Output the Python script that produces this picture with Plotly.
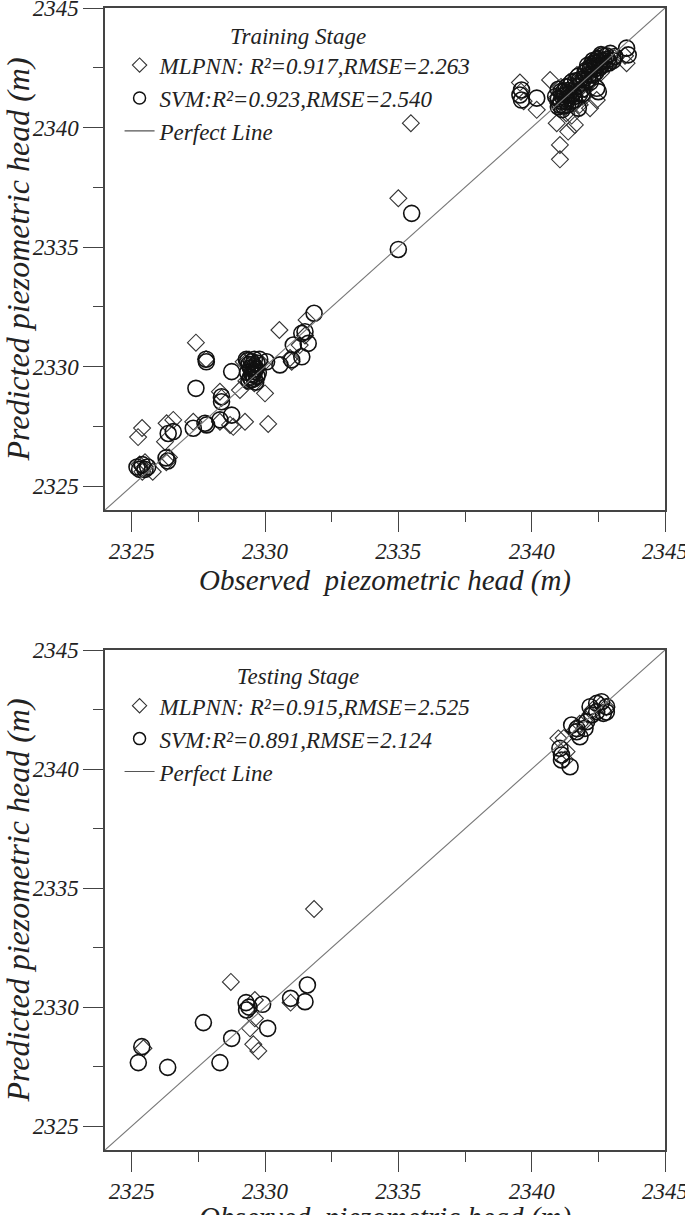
import plotly.graph_objects as go

# ---------------- data ----------------
axis_range = [2324, 2345]
tick_vals = [2325, 2330, 2335, 2340, 2345]
line_ends = [2324, 2345]

train_mlp = [
    (2325.24, 2327.05), (2325.39, 2327.43), (2325.3, 2325.9), (2325.4, 2325.6), (2325.5, 2326.0),
    (2325.79, 2325.6), (2325.45, 2325.75), (2326.3, 2326.0), (2326.4, 2326.2),
    (2326.31, 2327.63), (2326.56, 2327.77), (2326.25, 2326.86),
    (2327.31, 2327.69), (2328.31, 2327.69), (2328.69, 2327.56),
    (2328.31, 2328.95), (2328.37, 2328.69), (2327.79, 2330.31), (2327.41, 2331.0),
    (2330.54, 2331.53), (2331.56, 2331.95), (2331.0, 2330.2), (2330.94, 2330.36),
    (2331.5, 2331.3), (2331.3, 2330.9),
    (2329.3, 2329.4), (2329.6, 2329.3), (2329.9, 2330.1), (2329.2, 2330.2), (2329.5, 2329.9),
    (2329.4, 2330.3), (2329.7, 2330.0), (2329.06, 2329.02), (2330.0, 2328.88),
    (2329.25, 2327.69), (2330.12, 2327.6), (2328.81, 2327.48),
    (2335.47, 2340.18), (2335.0, 2337.04),
    (2339.56, 2341.88), (2340.69, 2341.99), (2340.19, 2340.74), (2339.6, 2341.5), (2339.7, 2341.1),
    (2340.94, 2340.18), (2341.37, 2339.83), (2341.06, 2339.27), (2341.06, 2338.67), (2341.62, 2340.11),
    (2342.19, 2340.81), (2342.44, 2341.15), (2343.56, 2342.69), (2343.5, 2343.0),
    (2341.0, 2341.0), (2341.2, 2341.4), (2341.4, 2341.2), (2341.5, 2341.6), (2341.7, 2341.5),
    (2341.8, 2341.9), (2342.0, 2342.1), (2342.1, 2341.8), (2342.3, 2342.4), (2342.5, 2342.6),
    (2342.7, 2342.8), (2342.9, 2342.7), (2343.1, 2342.9), (2341.3, 2340.6), (2341.6, 2341.0),
    (2341.9, 2341.3), (2342.2, 2342.6), (2342.4, 2342.9), (2341.1, 2341.7), (2341.4, 2341.9),
    (2342.6, 2342.3), (2342.0, 2341.6), (2341.7, 2342.2),
    (2340.95, 2341.25), (2341.15, 2341.55), (2341.35, 2341.05), (2341.45, 2341.65), (2341.55, 2341.35),
    (2341.75, 2341.75), (2341.85, 2342.05), (2342.05, 2341.85), (2342.15, 2342.35), (2342.35, 2342.15),
    (2342.45, 2342.45), (2342.55, 2342.85), (2342.65, 2342.55), (2342.85, 2342.95), (2343.0, 2342.75),
    (2341.25, 2340.85), (2341.5, 2340.5), (2341.8, 2340.95),
]
train_mlp_obs = [p[0] for p in train_mlp]
train_mlp_pred = [p[1] for p in train_mlp]

train_svm = [
    (2325.2, 2325.8), (2325.3, 2325.7), (2325.4, 2325.9), (2325.5, 2325.7), (2325.6, 2325.8),
    (2326.29, 2326.18), (2326.35, 2326.05), (2326.37, 2327.2), (2326.56, 2327.28),
    (2327.31, 2327.42), (2327.75, 2327.63), (2327.81, 2327.56), (2328.31, 2327.77), (2328.75, 2327.97),
    (2328.37, 2328.53), (2328.37, 2328.74), (2327.41, 2329.09), (2327.79, 2330.31), (2327.8, 2330.2),
    (2328.75, 2329.79),
    (2331.84, 2332.23), (2331.38, 2331.39), (2331.5, 2331.46), (2331.62, 2330.97), (2331.06, 2330.9),
    (2331.0, 2330.28), (2331.38, 2330.41), (2330.56, 2330.07),
    (2329.3, 2330.3), (2329.5, 2330.2), (2329.6, 2330.0), (2329.5, 2329.7), (2329.6, 2329.5),
    (2329.7, 2329.6), (2329.4, 2329.4), (2329.8, 2330.3), (2329.6, 2329.8), (2329.55, 2329.65),
    (2329.45, 2329.55), (2329.65, 2329.35), (2330.06, 2330.2),
    (2329.35, 2329.75), (2329.45, 2329.95), (2329.55, 2330.1), (2329.65, 2329.9), (2329.75, 2329.75),
    (2329.5, 2329.45), (2329.7, 2330.15), (2329.4, 2330.1), (2329.6, 2330.3), (2329.35, 2330.25),
    (2335.5, 2336.41), (2335.0, 2334.9),
    (2339.56, 2341.36), (2339.62, 2341.15), (2340.19, 2341.23), (2339.62, 2341.57),
    (2341.0, 2340.87), (2341.31, 2341.08), (2341.75, 2340.81), (2342.44, 2341.64), (2342.5, 2341.5),
    (2343.56, 2343.32), (2343.62, 2343.04), (2343.12, 2342.97),
    (2341.0, 2341.2), (2341.1, 2341.5), (2341.2, 2340.9), (2341.3, 2341.7), (2341.4, 2341.4),
    (2341.5, 2341.9), (2341.6, 2341.3), (2341.7, 2341.7), (2341.8, 2342.0), (2341.9, 2341.6),
    (2342.0, 2342.3), (2342.1, 2342.0), (2342.2, 2342.5), (2342.3, 2342.2), (2342.4, 2342.7),
    (2342.5, 2342.9), (2342.6, 2342.6), (2342.7, 2342.8), (2342.8, 2343.0), (2342.3, 2342.8),
    (2342.1, 2342.6), (2341.3, 2341.2), (2341.2, 2341.5), (2341.05, 2340.95), (2342.55, 2342.75),
    (2342.45, 2342.85), (2342.35, 2342.7), (2342.9, 2342.7), (2341.8, 2341.4), (2341.5, 2341.1),
    (2340.9, 2341.3), (2341.0, 2341.6), (2341.1, 2341.1), (2341.15, 2340.75), (2341.25, 2341.35),
    (2341.35, 2341.55), (2341.45, 2341.75), (2341.55, 2341.45), (2341.65, 2341.95), (2341.75, 2342.15),
    (2341.85, 2341.85), (2341.95, 2342.05), (2342.05, 2342.4), (2342.15, 2342.2), (2342.25, 2342.65),
    (2342.35, 2342.45), (2342.45, 2342.6), (2342.55, 2342.5), (2342.65, 2343.0), (2342.75, 2342.65),
    (2342.85, 2342.85), (2342.95, 2343.1), (2343.05, 2342.8), (2342.2, 2341.9), (2341.9, 2341.4),
    (2341.6, 2341.15), (2341.35, 2340.95), (2341.15, 2341.3), (2342.4, 2342.3), (2342.6, 2343.05),
]
train_svm_obs = [p[0] for p in train_svm]
train_svm_pred = [p[1] for p in train_svm]

test_mlp = [
    (2331.84, 2334.12), (2328.72, 2331.06), (2329.62, 2330.3), (2330.96, 2330.19), (2329.44, 2329.11),
    (2329.62, 2329.53), (2329.56, 2328.44), (2329.75, 2328.16), (2325.44, 2328.27),
    (2341.0, 2341.29), (2341.31, 2340.73), (2341.25, 2340.4), (2341.6, 2341.6), (2341.2, 2341.3),
    (2342.0, 2342.0), (2342.3, 2342.5), (2342.6, 2342.7), (2342.8, 2342.6), (2341.8, 2341.9),
    (2342.2, 2342.3),
]
test_mlp_obs = [p[0] for p in test_mlp]
test_mlp_pred = [p[1] for p in test_mlp]

test_svm = [
    (2329.29, 2330.19), (2329.31, 2329.88), (2329.91, 2330.12), (2330.96, 2330.37), (2331.59, 2330.93),
    (2331.5, 2330.23), (2327.69, 2329.35), (2328.75, 2328.69), (2330.1, 2329.11), (2328.31, 2327.67),
    (2325.38, 2328.34), (2325.25, 2327.67), (2326.35, 2327.47), (2329.4, 2330.0),
    (2341.44, 2340.1), (2341.12, 2340.38), (2341.06, 2340.87), (2341.12, 2340.59), (2341.5, 2341.85),
    (2341.69, 2341.57), (2341.81, 2341.36), (2342.0, 2341.71), (2342.06, 2341.99), (2342.19, 2342.62),
    (2342.44, 2342.76), (2342.62, 2342.83), (2342.81, 2342.62), (2342.69, 2342.34), (2342.44, 2342.41),
    (2342.25, 2342.27), (2342.8, 2342.4), (2341.7, 2341.7),
]
test_svm_obs = [p[0] for p in test_svm]
test_svm_pred = [p[1] for p in test_svm]

train_labels = ["MLPNN: R²=0.917,RMSE=2.263", "SVM:R²=0.923,RMSE=2.540", "Perfect Line"]
test_labels = ["MLPNN: R²=0.915,RMSE=2.525", "SVM:R²=0.891,RMSE=2.124", "Perfect Line"]
x_title = "Observed  piezometric head (m)"
y_title = "Predicted piezometric head (m)"

# ---------------- figure ----------------
FONT = "Liberation Serif"
INK = "#222222"
AX = "#444444"
fig = go.Figure()


def add_panel(mlp_x, mlp_y, svm_x, svm_y, labels, xa, ya, leg):
    fig.add_trace(go.Scatter(
        x=mlp_x, y=mlp_y, mode="markers", name=labels[0], xaxis=xa, yaxis=ya, showlegend=False,
        marker=dict(symbol="diamond-open", size=13, color="#333333", line=dict(width=1.1))))
    fig.add_trace(go.Scatter(
        x=svm_x, y=svm_y, mode="markers", name=labels[1], xaxis=xa, yaxis=ya, showlegend=False,
        marker=dict(symbol="circle-open", size=16, color="#111111", line=dict(width=1.6))))
    fig.add_trace(go.Scatter(
        x=line_ends, y=line_ends, mode="lines", name=labels[2], xaxis=xa, yaxis=ya, showlegend=False,
        line=dict(color="#777777", width=1.1)))
    # legend keys (legend-only entries, no data)
    fig.add_trace(go.Scatter(
        x=[None], y=[None], mode="markers", name=labels[0], xaxis=xa, yaxis=ya, legend=leg,
        marker=dict(symbol="diamond-open", size=11, color="#333333", line=dict(width=1.1))))
    fig.add_trace(go.Scatter(
        x=[None], y=[None], mode="markers", name=labels[1], xaxis=xa, yaxis=ya, legend=leg,
        marker=dict(symbol="circle-open", size=12, color="#111111", line=dict(width=1.5))))
    fig.add_trace(go.Scatter(
        x=[None], y=[None], mode="lines", name=labels[2], xaxis=xa, yaxis=ya, legend=leg,
        line=dict(color="#555555", width=1.1)))


add_panel(train_mlp_obs, train_mlp_pred, train_svm_obs, train_svm_pred, train_labels, "x", "y", "legend")
add_panel(test_mlp_obs, test_mlp_pred, test_svm_obs, test_svm_pred, test_labels, "x2", "y2", "legend2")

tickfont = dict(family=FONT, size=23, color=INK, style="italic")
xtitlefont = dict(family=FONT, size=29, color=INK, style="italic")
ytitlefont = dict(family=FONT, size=32, color=INK, style="italic")


def common():
    return dict(range=axis_range, tickvals=tick_vals, automargin=False, ticklabeloverflow="allow",
                showline=True, linecolor=AX, linewidth=1.5, mirror=True,
                ticks="outside", ticklen=20, tickwidth=1.2, tickcolor=AX,
                minor=dict(dtick=2.5, tick0=2325, ticks="outside", ticklen=10, tickwidth=1.2,
                           tickcolor=AX, showgrid=False),
                showgrid=False, zeroline=False, tickfont=tickfont)


def yaxis(anchor, dom):
    d = common()
    d.update(anchor=anchor, domain=dom,
             title=dict(text=y_title, font=ytitlefont, standoff=2))
    return d


xaxis1 = common()
xaxis1.update(anchor="y", domain=[0, 1], title=dict(text=x_title, font=xtitlefont, standoff=2))
xaxis2 = common()
xaxis2.update(anchor="y2", domain=[0, 1])

legfont = dict(family=FONT, size=23, color=INK, style="italic")

fig.update_layout(
    width=685, height=1215,
    margin=dict(l=105, r=20, t=8, b=65),
    plot_bgcolor="white", paper_bgcolor="white",
    xaxis=xaxis1, yaxis=yaxis("x", [0.5604, 1.0]),
    xaxis2=xaxis2, yaxis2=yaxis("x2", [0.0, 0.4378]),
    legend=dict(x=0.026, y=0.995, xanchor="left", yanchor="top", bgcolor="rgba(0,0,0,0)",
                font=legfont, tracegroupgap=0,
                title=dict(text="Training Stage", side="top center", font=legfont)),
    legend2=dict(x=0.026, y=0.434, xanchor="left", yanchor="top", bgcolor="rgba(0,0,0,0)",
                 font=legfont, tracegroupgap=0,
                 title=dict(text="Testing Stage", side="top center", font=legfont)),
    annotations=[dict(text=x_title, xref="paper", yref="paper", x=0.5, y=-0.0587,
                      xanchor="center", yanchor="middle", showarrow=False, font=xtitlefont)],
    showlegend=True,
)

fig.write_html("out.html", config={"displayModeBar": False},
               post_script="document.body.style.margin='0';document.body.style.overflow='hidden';")
